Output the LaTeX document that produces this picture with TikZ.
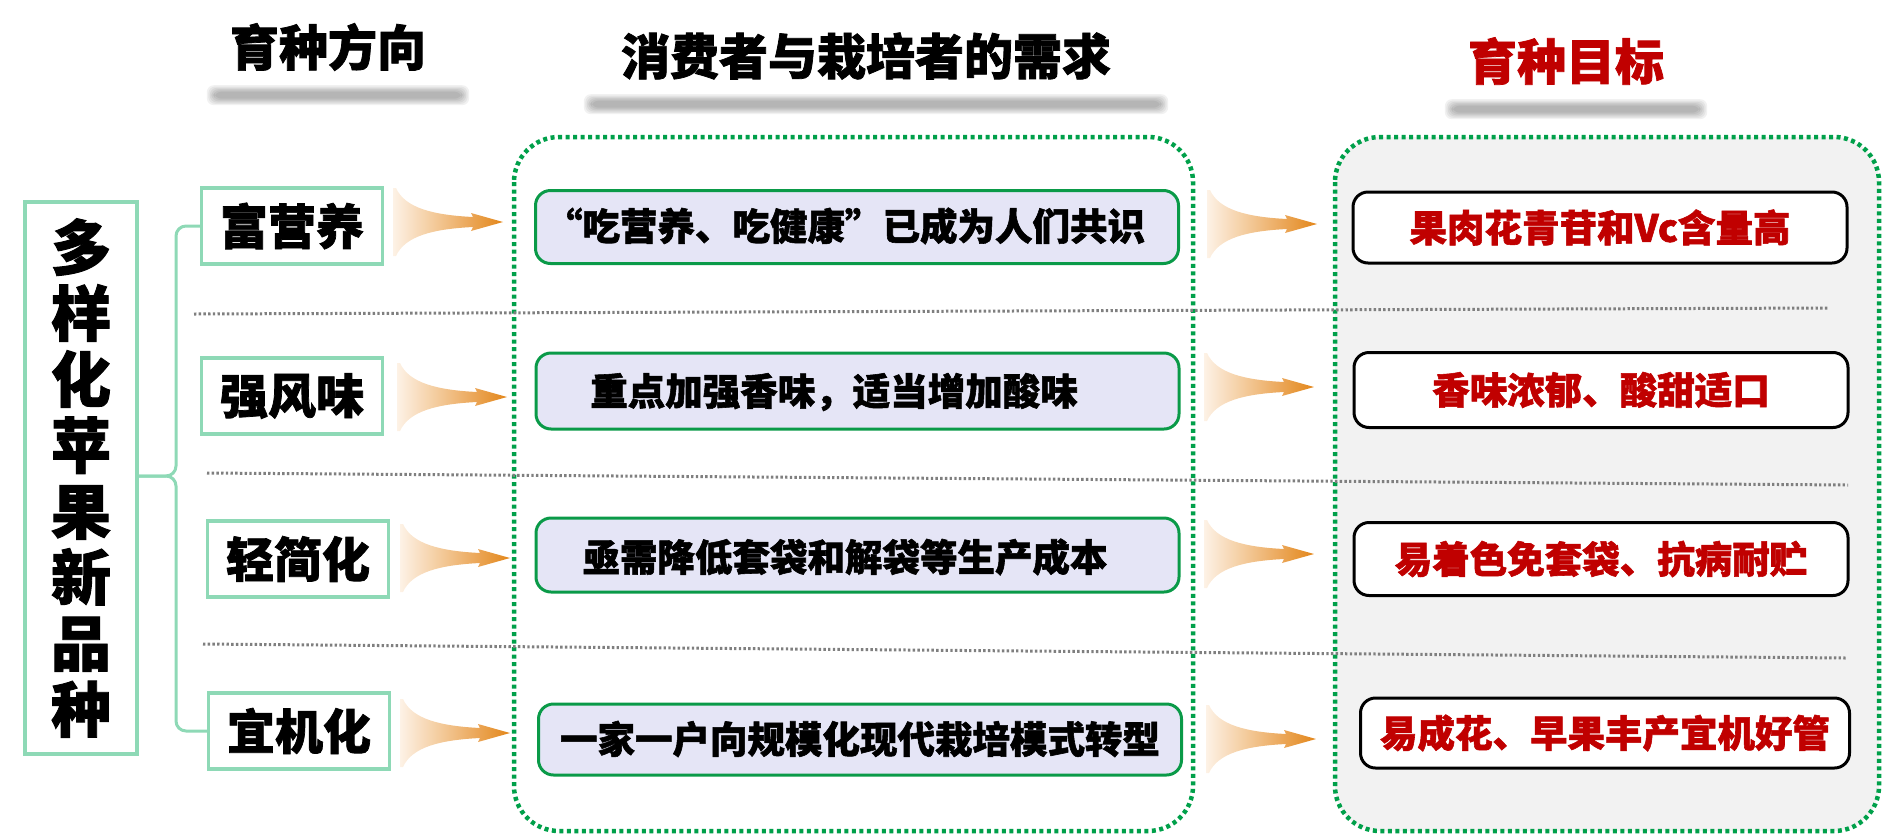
\documentclass[tikz,border=0pt]{standalone}
\usepackage{fontspec}
\setmainfont{Noto Sans CJK SC}[BoldFeatures={FakeBold=1.5}]
\usetikzlibrary{calc}
\definecolor{mint}{HTML}{8ED9B6}
\definecolor{dgreen}{HTML}{00A04A}
\definecolor{bgreen}{HTML}{0A9A48}
\definecolor{lav}{HTML}{E5E5F6}
\definecolor{darkred}{HTML}{C00000}
\definecolor{fanL}{HTML}{FDF2E6}
\definecolor{fanR}{HTML}{E3861A}
\definecolor{sepgray}{HTML}{7F7F7F}
\definecolor{panel}{HTML}{F2F2F2}
\tikzset{
 heading/.style={fill=white, inner sep=0pt, minimum width=250, minimum height=74, font=\fontsize{49}{49}\selectfont\bfseries},
 shadowlayer/.style={fill=black, opacity=0.055, rounded corners=7},
 dotframe/.style={draw=dgreen, line width=4.5pt, dash pattern=on 4pt off 3.5pt, rounded corners=45},
 sepline/.style={draw=sepgray, line width=3pt, dash pattern=on 2.4pt off 2.3pt},
 bracket/.style={draw=mint, line width=3pt, rounded corners=10},
 bigbox/.style={draw=mint, line width=3.5pt, fill=white, inner sep=0pt, align=center, font=\fontsize{60}{66}\selectfont\bfseries},
 catbox/.style={draw=mint, line width=3.5pt, fill=white, inner sep=0pt, minimum width=181, minimum height=76, font=\fontsize{48}{48}\selectfont\bfseries},
 needbox/.style={draw=bgreen, line width=3pt, fill=lav, rounded corners=15, inner sep=0pt, minimum width=643, minimum height=73},
 needtext/.style={inner sep=0pt, font=\fontsize{37.5}{37.5}\selectfont\bfseries},
 goalbox/.style={draw=black, line width=3pt, fill=white, rounded corners=15, inner sep=0pt, minimum width=494, minimum height=72, text=darkred, font=\fontsize{37.5}{37.5}\selectfont\bfseries},
 fan/.pic={\shade[left color=fanL, right color=fanR] (0,-34) -- (3,-34) .. controls (12,-14) and (40,-7) .. (80,-5) -- (78,-9) -- (110,0) -- (78,9) -- (80,5) .. controls (40,7) and (12,14) .. (3,34) -- (0,34) -- cycle;}
}
\begin{document}
\begin{tikzpicture}[x=1pt,y=-1pt]
\useasboundingbox (0,0) rectangle (1882,836);

% headings
\node[heading] (h1) at (328,47) {育种方向};
\node[heading, minimum width=572] (h2) at (866,56) {消费者与栽培者的需求};
\node[heading, text=darkred] (h3) at (1566,61) {育种目标};
\foreach \h in {h1,h2,h3}{
  \foreach \i in {0,...,5}{
    \fill[shadowlayer] ($(\h.south west)+(4+\i*1.5,1+\i*1.3)$) rectangle ($(\h.south east)+(16-\i*1.5,21-\i*1.3)$);
  }
}

% dotted frames
\draw[dotframe, fill=panel] (1335,137) rectangle (1879,831);
\draw[dotframe] (514,137) rectangle (1193,831);

% separators
\draw[sepline] (194,314) -- (1829,308);
\draw[sepline] (207,473) -- (1848,485);
\draw[sepline] (203,644) -- (1846,658);

% left title
\node[bigbox, minimum width=112, minimum height=552] (big) at (81,478) {多\\样\\化\\苹\\果\\新\\品\\种};

% categories
\node[catbox] (c1) at (292,226) {富营养};
\node[catbox] (c2) at (292,396) {强风味};
\node[catbox] (c3) at (298,559) {轻简化};
\node[catbox] (c4) at (299,731) {宜机化};

% brace
\coordinate (bm) at (176,476);
\draw[bracket] (c1.west) -| (bm) -- (bm -| big.east);
\draw[bracket] (bm -| big.east) -- (bm) |- (c4.west);

% needs
\node[needbox] (m1) at (857,227) {};
\node[needbox, minimum height=76] (m2) at (857.5,391) {};
\node[needbox, minimum height=74] (m3) at (857.5,555) {};
\node[needbox, minimum height=71] (m4) at (860,739.5) {};
\node[needtext] (t1) at (845,226) {“吃营养、吃健康”已成为人们共识};
\node[needtext] (t2) at (834,392) {重点加强香味，适当增加酸味};
\node[needtext] (t3) at (845,557) {亟需降低套袋和解袋等生产成本};
\node[needtext] (t4) at (860,739) {一家一户向规模化现代栽培模式转型};

% goals
\node[goalbox, minimum height=71] (r1) at (1600,227.5) {果肉花青苷和Vc含量高};
\node[goalbox, minimum height=75] (r2) at (1601,390) {香味浓郁、酸甜适口};
\node[goalbox, minimum height=73] (r3) at (1601,559) {易着色免套袋、抗病耐贮};
\node[goalbox, minimum height=70, minimum width=489] (r4) at (1605,733) {易成花、早果丰产宜机好管};

% fan arrows
\pic at (393,222) {fan};
\pic at (397,397) {fan};
\pic at (400,558) {fan};
\pic at (400,733) {fan};
\pic at (1207,224) {fan};
\pic at (1204,387) {fan};
\pic at (1204,554) {fan};
\pic at (1206,739) {fan};
\end{tikzpicture}
\end{document}
